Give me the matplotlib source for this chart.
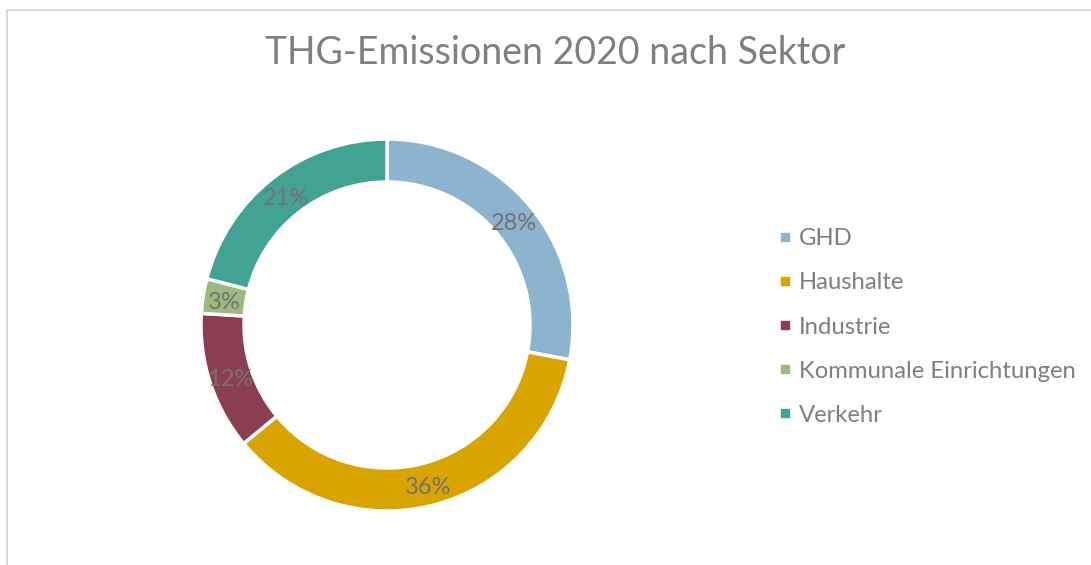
import matplotlib
matplotlib.use("Agg")
import matplotlib.pyplot as plt
from matplotlib.lines import Line2D
import numpy as np

plt.rcParams['font.family'] = ['Lato', 'DejaVu Sans']

title = "THG-Emissionen 2020 nach Sektor"
categories = ["GHD", "Haushalte", "Industrie", "Kommunale Einrichtungen", "Verkehr"]
values = [28, 36, 12, 3, 21]
colors = ["#8db4ce", "#d9a300", "#8b3d52", "#9bbb7e", "#42a395"]

W, H = 1091, 565
fig = plt.figure(figsize=(W / 100, H / 100), dpi=100)
fig.patch.set_facecolor("white")

# frame lines (left and top)
fig.add_artist(Line2D([6.5 / W, 6.5 / W], [0, 1 - 9.5 / H], color="#d9d9d9", lw=1.5, transform=fig.transFigure))
fig.add_artist(Line2D([6.5 / W, 1], [1 - 9.5 / H, 1 - 9.5 / H], color="#d9d9d9", lw=1.5, transform=fig.transFigure))

# donut axes
cx, cy, R = 387, 325, 186
side = 400
ax = fig.add_axes([(cx - side / 2) / W, 1 - (cy + side / 2) / H, side / W, side / H])

width = 43 / R
wedges, _ = ax.pie(values, colors=colors, startangle=90, counterclock=False, radius=1,
                   wedgeprops=dict(width=width, edgecolor="white", linewidth=2.5))
lim = (side / 2) / R
ax.set_xlim(-lim, lim)
ax.set_ylim(-lim, lim)
ax.set_aspect("equal")
ax.axis("off")

total = sum(values)
ang = 90.0
rmid = 1 - width / 2
dy = -3.5 / R
for v in values:
    span = 360.0 * v / total
    mid = np.deg2rad(ang - span / 2)
    ax.text(rmid * np.cos(mid), rmid * np.sin(mid) + dy, f"{v}%", ha="center", va="center",
            fontsize=17, color="#767171")
    ang -= span

fig.text(555 / W, 1 - 53 / H, title, ha="center", va="center", fontsize=27, color="#7f7f7f")

handles = [Line2D([], [], marker="s", linestyle="none", markersize=6, markerfacecolor=c,
                  markeredgecolor=c) for c in colors]
leg = fig.legend(handles, categories, loc="center left", bbox_to_anchor=(780 / W, 1 - 327 / H),
                 frameon=False, fontsize=17.2, labelcolor="#7f7f7f", handlelength=0.45,
                 handletextpad=0.35, labelspacing=0.97, borderpad=0, borderaxespad=0)

fig.savefig("out.png", dpi=100, facecolor="white")
